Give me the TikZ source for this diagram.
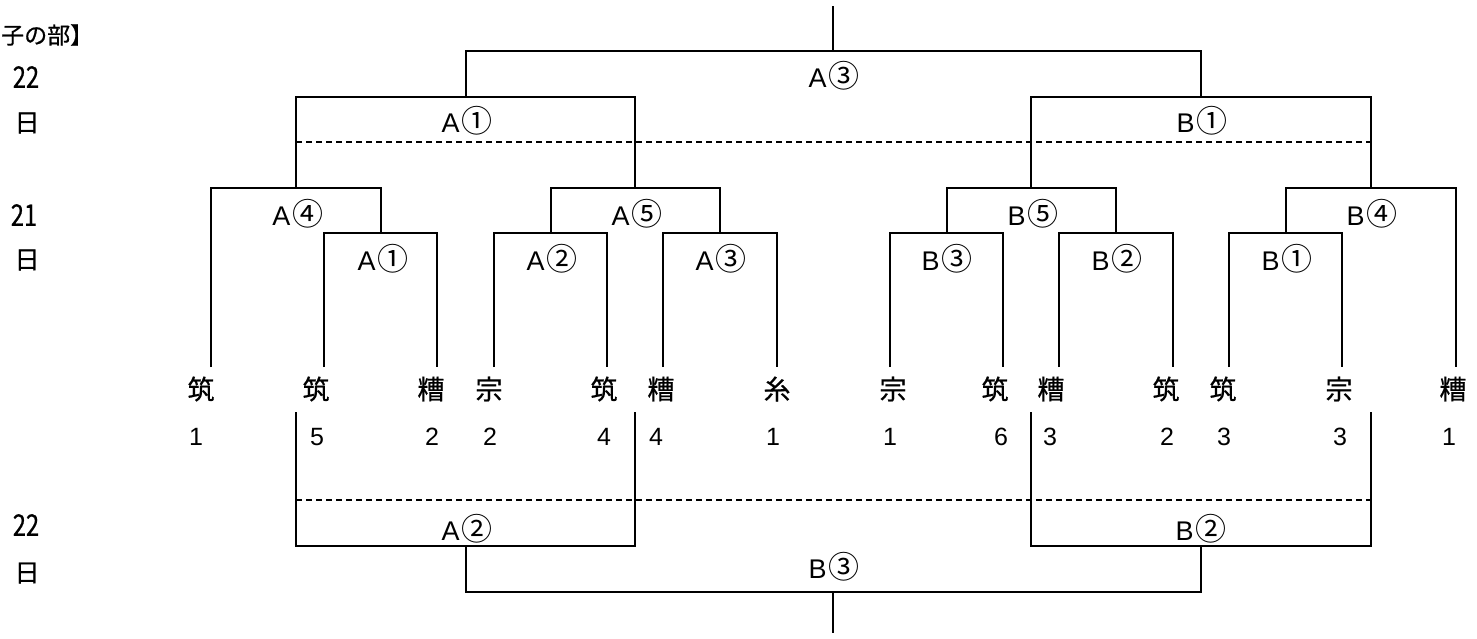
\documentclass[tikz,border=0pt]{standalone}
\usepackage{graphicx}
\usepackage{fontspec}
\newfontfamily\jp[FakeBold=0.6]{Noto Sans CJK JP}
\newfontfamily\jpc{Noto Sans CJK JP}
\newfontfamily\lat{Liberation Sans}
\newcommand\mlab[2]{{\lat\fontsize{27}{27}\selectfont #1}\hspace{2pt}{\jpc\fontsize{31}{31}\selectfont #2}}
\begin{document}
\begin{tikzpicture}[x=1pt,y=-1pt,
  br/.style={line width=2.4pt},
  tail/.style={line width=1.4pt},
  dashline/.style={line width=2.4pt, dash pattern=on 6pt off 4pt},
  team/.style={font=\jp\fontsize{27}{27}\selectfont, inner sep=0pt},
  score/.style={font=\lat\fontsize{25}{25}\selectfont, inner sep=0pt},
  match/.style={inner sep=0pt},
  side/.style={font=\jp\fontsize{25}{25}\selectfont, inner sep=0pt}]
\useasboundingbox (0,0) rectangle (1477,638);
% leaves
\foreach \i/\lx/\tx/\nx/\t/\n in {
  1/211/201/196/筑/1, 2/324/316/317/筑/5, 3/437/431/432/糟/2,
  4/494/489/490/宗/2, 5/607/604/604/筑/4, 6/663/661/656/糟/4,
  7/777/777/773/糸/1, 8/890/893/890/宗/1, 9/1003/995/1001/筑/6,
  10/1059/1051/1050/糟/3, 11/1173/1166/1167/筑/2, 12/1229/1223/1224/筑/3,
  13/1342/1339/1340/宗/3, 14/1456/1453/1449/糟/1} {
  \coordinate (L\i) at (\lx,367);
  \node[team] (t\i) at (\tx,389) {\t};
  \node[score] (n\i) at (\nx,437) {\n};
}
% bracket apexes
\coordinate (mA1) at (381,233);
\coordinate (mA2) at (551,233);
\coordinate (mA3) at (720,233);
\coordinate (mB3) at (947,233);
\coordinate (mB2) at (1116,233);
\coordinate (mB1) at (1286,233);
\coordinate (mA4) at (296,188);
\coordinate (mA5) at (635,188);
\coordinate (mB5) at (1031,188);
\coordinate (mB4) at (1371,188);
\coordinate (mSA) at (466,97);
\coordinate (mSB) at (1201,97);
\coordinate (mF) at (833,51);
\coordinate (top) at (833,6);
% upper bracket
\draw[br] (L2) |- (mA1) -| (L3);
\draw[br] (L4) |- (mA2) -| (L5);
\draw[br] (L6) |- (mA3) -| (L7);
\draw[br] (L8) |- (mB3) -| (L9);
\draw[br] (L10) |- (mB2) -| (L11);
\draw[br] (L12) |- (mB1) -| (L13);
\draw[br] (L1) |- (mA4) -| (mA1);
\draw[br] (mA2) |- (mA5) -| (mA3);
\draw[br] (mB3) |- (mB5) -| (mB2);
\draw[br] (mB1) |- (mB4) -| (L14);
\draw[br] (mA4) |- (mSA) -| (mA5);
\draw[br] (mB5) |- (mSB) -| (mB4);
\draw[br] (mSA) |- (mF) -| (mSB);
\draw[tail] (mF) -- (top);
% dashed lines
\coordinate (dA) at (296,142);
\coordinate (dB) at (1371,142);
\draw[dashline] (dA) -- (dB);
\coordinate (eA) at (296,500);
\coordinate (eB) at (1371,500);
\draw[dashline] (eA) -- (eB);
% lower bracket
\coordinate (sA4) at (296,412);
\coordinate (sA5) at (635,412);
\coordinate (sB5) at (1031,412);
\coordinate (sB4) at (1371,412);
\coordinate (bA) at (466,546);
\coordinate (bB) at (1201,546);
\coordinate (bF) at (833,592);
\coordinate (bot) at (833,633);
\draw[br] (sA4) |- (bA) -| (sA5);
\draw[br] (sB5) |- (bB) -| (sB4);
\draw[br] (bA) |- (bF) -| (bB);
\draw[tail] (bF) -- (bot);
% match labels
\node[match] (kF) at (834,76) {\mlab{A}{③}};
\node[match] (kSA) at (467,121) {\mlab{A}{①}};
\node[match] (kSB) at (1202,121) {\mlab{B}{①}};
\node[match] (kA4) at (298,214) {\mlab{A}{④}};
\node[match] (kA5) at (637,214) {\mlab{A}{⑤}};
\node[match] (kB5) at (1033,214) {\mlab{B}{⑤}};
\node[match] (kB4) at (1372,214) {\mlab{B}{④}};
\node[match] (kA1) at (383,259) {\mlab{A}{①}};
\node[match] (kA2) at (552,259) {\mlab{A}{②}};
\node[match] (kA3) at (721,259) {\mlab{A}{③}};
\node[match] (kB3) at (947,259) {\mlab{B}{③}};
\node[match] (kB2) at (1117,259) {\mlab{B}{②}};
\node[match] (kB1) at (1287,259) {\mlab{B}{①}};
\node[match] (kbA) at (467,529) {\mlab{A}{②}};
\node[match] (kbB) at (1201,529) {\mlab{B}{②}};
\node[match] (kbF) at (834,567) {\mlab{B}{③}};
% side labels
\node[side, anchor=west, font=\jp\fontsize{23}{23}\selectfont] (title) at (1,35) {子の部】};
\node[side] (d1) at (26,77) {\scalebox{0.95}[1.2]{22}};
\node[side] (d1b) at (27,123) {日};
\node[side] (d2) at (24,215) {\scalebox{0.95}[1.2]{21}};
\node[side] (d2b) at (27,260) {日};
\node[side] (d3) at (26,525) {\scalebox{0.95}[1.2]{22}};
\node[side] (d3b) at (27,573) {日};
\end{tikzpicture}
\end{document}
